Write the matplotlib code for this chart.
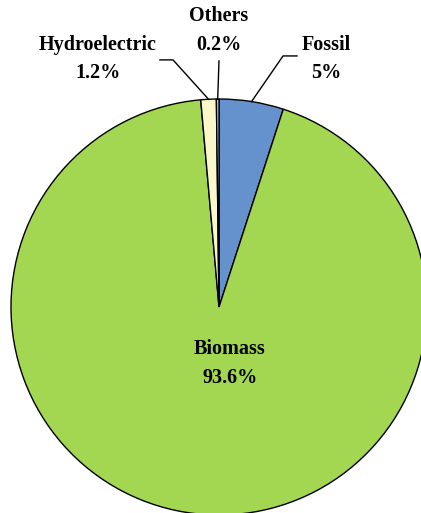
import numpy as np
import matplotlib
matplotlib.use('Agg')
import matplotlib.pyplot as plt

# Data
labels = ['Fossil', 'Biomass', 'Hydroelectric', 'Others']
shares = [5.0, 93.6, 1.2, 0.2]
pct_text = ['5%', '93.6%', '1.2%', '0.2%']
colors = ['#6591CC', '#A3D651', '#FAF7CB', '#B7DEE8']

plt.rcParams['font.family'] = ['Liberation Serif', 'DejaVu Serif']

fig = plt.figure(figsize=(4.21, 5.13), dpi=100)
ax = fig.add_axes([0, 0, 1, 1])

wedges, _ = ax.pie(shares, colors=colors, startangle=90, counterclock=False,
                   wedgeprops=dict(edgecolor='black', linewidth=1.0))

# pixel layout: centre at (219, 307), radius 208 px
r_px = 208.0
cx, cy = 219.0, 307.0
ax.set_xlim(-cx / r_px, (421 - cx) / r_px)
ax.set_ylim(-(513 - cy) / r_px, cy / r_px)
ax.set_aspect('auto')
ax.axis('off')

def mid_point(w):
    ang = np.deg2rad((w.theta1 + w.theta2) / 2.0)
    return np.cos(ang), np.sin(ang)

font = dict(fontsize=14.5, fontweight='bold', ha='center', va='center',
            linespacing=1.58, color='black')

# Biomass label inside
ax.text(0.053, -0.27, labels[1] + '\n' + pct_text[1], **font)

# outside labels: text position, elbow, end of leader
outside = {
    0: ((0.514, 1.192), (0.308, 1.207), (0.375, 1.207)),
    2: ((-0.582, 1.192), (-0.221, 1.188), (-0.284, 1.188)),
    3: ((0.0, 1.33), (0.0, 1.183), (0.0, 1.183)),
}
for i, (tpos, elbow, end) in outside.items():
    ax.text(tpos[0], tpos[1], labels[i] + '\n' + pct_text[i], **font)
    mx, my = mid_point(wedges[i])
    ax.plot([mx, elbow[0], end[0]], [my, elbow[1], end[1]],
            color='black', linewidth=1.0, clip_on=False)

fig.savefig('out.png', dpi=100)
